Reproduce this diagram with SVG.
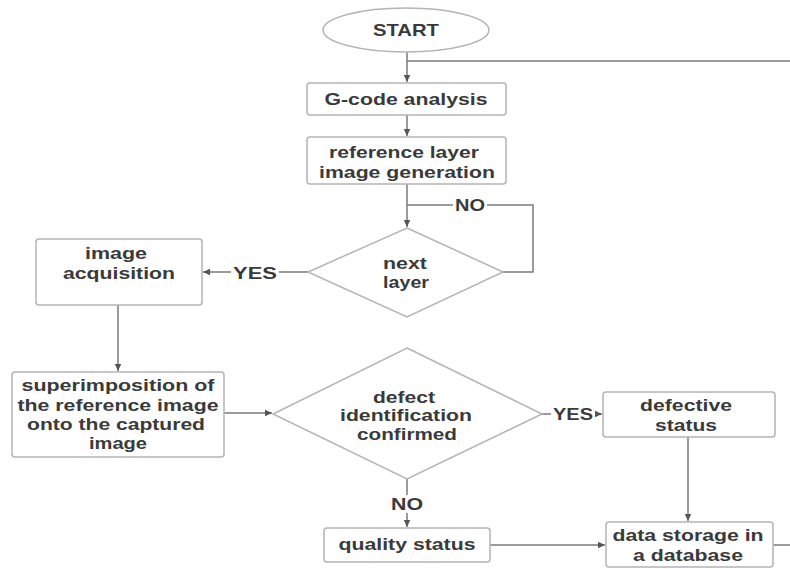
<svg xmlns="http://www.w3.org/2000/svg" width="790" height="569" viewBox="0 0 790 569">
<defs>
<marker id="arr" markerWidth="8" markerHeight="8" refX="7" refY="4" orient="auto" markerUnits="userSpaceOnUse">
<path d="M0,0.8 L7,4 L0,7.2 Z" fill="#555"/>
</marker>
<style>
.box{fill:#fff;stroke:#b4b4b4;stroke-width:1.5}
.t{font-family:"Liberation Sans",Arial,sans-serif;font-weight:bold;font-size:17px;fill:#3a3a3a;text-anchor:middle}
.c{fill:none;stroke:#7a7a7a;stroke-width:1.5}
.lbl{fill:#fff}
</style>
</defs>
<rect width="790" height="569" fill="#fff"/>

<g id="connectors">
<path class="c" d="M407,52 V82" marker-end="url(#arr)"/>
<path class="c" d="M407,61 H790"/>
<path class="c" d="M407,115 V136" marker-end="url(#arr)"/>
<path class="c" d="M407,184 V227" marker-end="url(#arr)"/>
<path class="c" d="M503,272 H533 V205 H407"/>
<path class="c" d="M308,272 H203" marker-end="url(#arr)"/>
<path class="c" d="M118,305 V371" marker-end="url(#arr)"/>
<path class="c" d="M224,413 H272" marker-end="url(#arr)"/>
<path class="c" d="M542,414 H602" marker-end="url(#arr)"/>
<path class="c" d="M688,437 V521" marker-end="url(#arr)"/>
<path class="c" d="M407,479 V527" marker-end="url(#arr)"/>
<path class="c" d="M490,545 H605" marker-end="url(#arr)"/>
<path class="c" d="M773,545 H790"/>
<rect class="lbl" x="453" y="197" width="34" height="16"/>
<text class="t" x="470" y="211" textLength="30" lengthAdjust="spacingAndGlyphs">NO</text>
<rect class="lbl" x="231" y="264" width="48" height="16"/>
<text class="t" x="255" y="279" textLength="44" lengthAdjust="spacingAndGlyphs">YES</text>
<rect class="lbl" x="551" y="406" width="44" height="16"/>
<text class="t" x="573" y="420" textLength="40" lengthAdjust="spacingAndGlyphs">YES</text>
<rect class="lbl" x="389" y="495" width="36" height="18"/>
<text class="t" x="407" y="510" textLength="32" lengthAdjust="spacingAndGlyphs">NO</text>
</g>

<g id="start">
<ellipse cx="406" cy="30" rx="83" ry="22" class="box"/>
<text class="t" x="406" y="36" textLength="66" lengthAdjust="spacingAndGlyphs">START</text>
</g>

<g id="gcode">
<rect class="box" x="307" y="83" width="199" height="32" rx="3"/>
<text class="t" x="406" y="105" textLength="163" lengthAdjust="spacingAndGlyphs">G-code analysis</text>
</g>

<g id="reference">
<rect class="box" x="307" y="137" width="199" height="47" rx="3"/>
<text class="t" x="404" y="158" textLength="150" lengthAdjust="spacingAndGlyphs">reference layer</text>
<text class="t" x="407" y="178" textLength="176" lengthAdjust="spacingAndGlyphs">image generation</text>
</g>

<g id="nextlayer">
<polygon class="box" points="407,228 503,272 407,317 308,272"/>
<text class="t" x="405" y="269" textLength="44" lengthAdjust="spacingAndGlyphs">next</text>
<text class="t" x="406" y="288" textLength="46" lengthAdjust="spacingAndGlyphs">layer</text>
</g>

<g id="acquisition">
<rect class="box" x="36" y="239" width="166" height="66" rx="3"/>
<text class="t" x="116" y="259" textLength="62" lengthAdjust="spacingAndGlyphs">image</text>
<text class="t" x="119" y="279" textLength="112" lengthAdjust="spacingAndGlyphs">acquisition</text>
</g>

<g id="superimposition">
<rect class="box" x="12" y="372" width="212" height="85" rx="3"/>
<text class="t" x="118" y="391" textLength="193" lengthAdjust="spacingAndGlyphs">superimposition of</text>
<text class="t" x="118" y="411" textLength="201" lengthAdjust="spacingAndGlyphs">the reference image</text>
<text class="t" x="116" y="430" textLength="178" lengthAdjust="spacingAndGlyphs">onto the captured</text>
<text class="t" x="118" y="449" textLength="58" lengthAdjust="spacingAndGlyphs">image</text>
</g>

<g id="defect">
<polygon class="box" points="407,348 542,414 407,479 273,414"/>
<text class="t" x="404" y="403" textLength="62" lengthAdjust="spacingAndGlyphs">defect</text>
<text class="t" x="406" y="421" textLength="132" lengthAdjust="spacingAndGlyphs">identification</text>
<text class="t" x="407" y="440" textLength="100" lengthAdjust="spacingAndGlyphs">confirmed</text>
</g>

<g id="defective">
<rect class="box" x="603" y="392" width="172" height="45" rx="3"/>
<text class="t" x="686" y="411" textLength="92" lengthAdjust="spacingAndGlyphs">defective</text>
<text class="t" x="686" y="431" textLength="62" lengthAdjust="spacingAndGlyphs">status</text>
</g>

<g id="quality">
<rect class="box" x="324" y="528" width="166" height="34" rx="3"/>
<text class="t" x="407" y="550" textLength="137" lengthAdjust="spacingAndGlyphs">quality status</text>
</g>

<g id="storage">
<rect class="box" x="606" y="522" width="167" height="45" rx="3"/>
<text class="t" x="688" y="541" textLength="151" lengthAdjust="spacingAndGlyphs">data storage in</text>
<text class="t" x="688" y="561" textLength="110" lengthAdjust="spacingAndGlyphs">a database</text>
</g>
</svg>
